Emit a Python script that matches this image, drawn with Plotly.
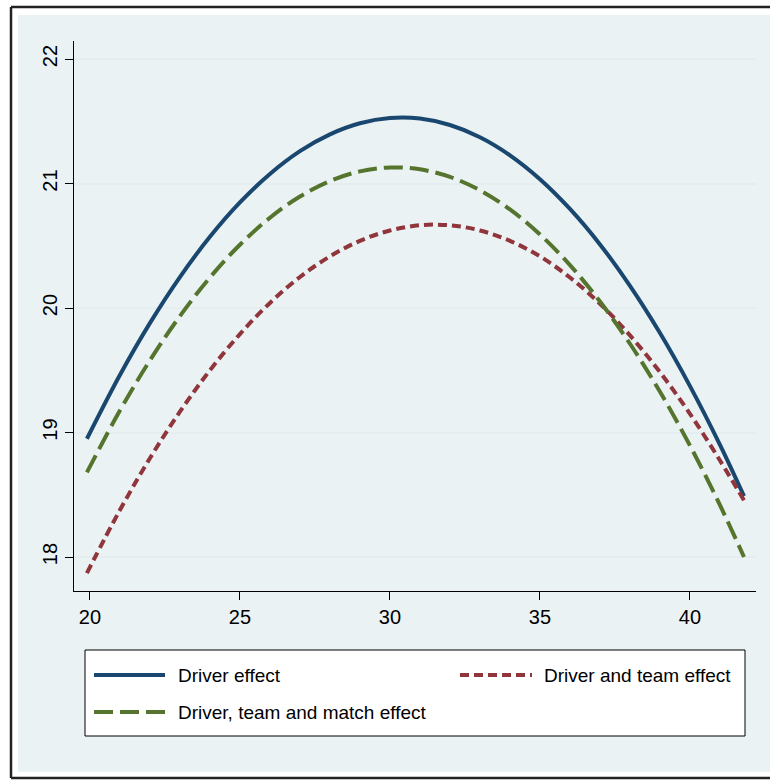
import plotly.graph_objects as go

# ---- data ----
age = [19.9, 21, 22, 23, 24, 25, 26, 27, 28, 29, 30, 31, 32, 33, 34, 35, 36, 37, 38, 39, 40, 41, 41.8]
driver = [18.950, 19.462, 19.879, 20.249, 20.572, 20.848, 21.077, 21.260, 21.395, 21.484, 21.526, 21.522,
          21.470, 21.372, 21.227, 21.035, 20.796, 20.511, 20.178, 19.799, 19.373, 18.901, 18.489]
driver_team = [17.871, 18.377, 18.793, 19.167, 19.500, 19.791, 20.041, 20.249, 20.415, 20.540, 20.623, 20.665,
               20.665, 20.623, 20.540, 20.415, 20.245, 20.035, 19.780, 19.485, 19.150, 18.775, 18.455]
driver_team_match = [18.680, 19.177, 19.579, 19.935, 20.245, 20.508, 20.725, 20.896, 21.020, 21.098, 21.129, 21.114,
                     21.053, 20.946, 20.792, 20.591, 20.345, 20.052, 19.713, 19.327, 18.895, 18.416, 18.000]

series_names = ["Driver effect", "Driver and team effect", "Driver, team and match effect"]
x_ticks = [20, 25, 30, 35, 40]
y_ticks = [18, 19, 20, 21, 22]

# ---- styles ----
NAVY = "#1a476f"
MAROON = "#90353b"
GREEN = "#55752f"
BG = "#eaf2f3"
GRID = "#e4eef0"
FONT = "Liberation Sans, Arial, sans-serif"

W, H = 770, 781
L, R, T, B = 74, 756, 41, 591  # plot area in pixels


def px(x):
    return (x - L) / (R - L)


def py(y):
    return (B - y) / (B - T)


fig = go.Figure()
fig.add_trace(go.Scatter(x=age, y=driver, mode="lines", name=series_names[0],
                         line=dict(color=NAVY, width=4, shape="spline")))
fig.add_trace(go.Scatter(x=age, y=driver_team, mode="lines", name=series_names[1],
                         line=dict(color=MAROON, width=4, dash="9px,5px", shape="spline")))
fig.add_trace(go.Scatter(x=age, y=driver_team_match, mode="lines", name=series_names[2],
                         line=dict(color=GREEN, width=4, dash="19px,7px", shape="spline")))

FRAME = dict(color="#222222", width=2.5)
shapes = [
    # background
    dict(type="rect", xref="paper", yref="paper", x0=px(18), x1=px(790), y0=py(15), y1=py(772),
         line=dict(width=0), fillcolor=BG, layer="below"),
    # outer frame (left, top, bottom)
    dict(type="line", xref="paper", yref="paper", x0=px(11), x1=px(11), y0=py(7), y1=py(778), line=FRAME),
    dict(type="line", xref="paper", yref="paper", x0=px(11), x1=px(800), y0=py(7), y1=py(7), line=FRAME),
    dict(type="line", xref="paper", yref="paper", x0=px(11), x1=px(800), y0=py(778), y1=py(778), line=FRAME),
    # legend box
    dict(type="rect", xref="paper", yref="paper", x0=px(85), x1=px(745), y0=py(650), y1=py(736),
         line=dict(color="black", width=1), fillcolor="white", layer="above"),
    dict(type="line", xref="paper", yref="paper", x0=px(94), x1=px(165), y0=py(675), y1=py(675),
         line=dict(color=NAVY, width=4)),
    dict(type="line", xref="paper", yref="paper", x0=px(460), x1=px(532), y0=py(675), y1=py(675),
         line=dict(color=MAROON, width=4, dash="9px,5px")),
    dict(type="line", xref="paper", yref="paper", x0=px(94), x1=px(165), y0=py(712), y1=py(712),
         line=dict(color=GREEN, width=4, dash="19px,7px")),
]

annotations = [
    dict(text=series_names[0], xref="paper", yref="paper", x=px(176), y=py(675),
         xanchor="left", yanchor="middle", showarrow=False, font=dict(size=19, color="black", family=FONT)),
    dict(text=series_names[1], xref="paper", yref="paper", x=px(733), y=py(675),
         xanchor="right", yanchor="middle", showarrow=False, font=dict(size=19, color="black", family=FONT)),
    dict(text=series_names[2], xref="paper", yref="paper", x=px(176), y=py(712),
         xanchor="left", yanchor="middle", showarrow=False, font=dict(size=19, color="black", family=FONT)),
]

fig.update_layout(
    width=W, height=H,
    margin=dict(l=L, r=W - R, t=T, b=H - B, pad=0),
    paper_bgcolor="white",
    plot_bgcolor="white",
    showlegend=False,
    shapes=shapes,
    annotations=annotations,
    font=dict(family=FONT, size=20, color="black"),
    xaxis=dict(range=[19.47, 42.2], tickvals=x_ticks, ticktext=[str(v) for v in x_ticks],
               showgrid=False, zeroline=False, showline=True, linecolor="black", linewidth=1,
               ticks="outside", ticklen=8, tickwidth=1, tickcolor="black",
               tickfont=dict(size=20, family=FONT)),
    yaxis=dict(range=[17.727, 22.145], tickvals=y_ticks, ticktext=[str(v) for v in y_ticks],
               showgrid=True, gridcolor=GRID, gridwidth=2, zeroline=False,
               showline=True, linecolor="black", linewidth=1,
               ticks="outside", ticklen=8, tickwidth=1, tickcolor="black",
               tickangle=-90, tickfont=dict(size=20, family=FONT)),
)

fig.write_html("out.html", config={"displayModeBar": False},
               post_script="document.body.style.margin='0px';document.body.style.overflow='hidden';")
